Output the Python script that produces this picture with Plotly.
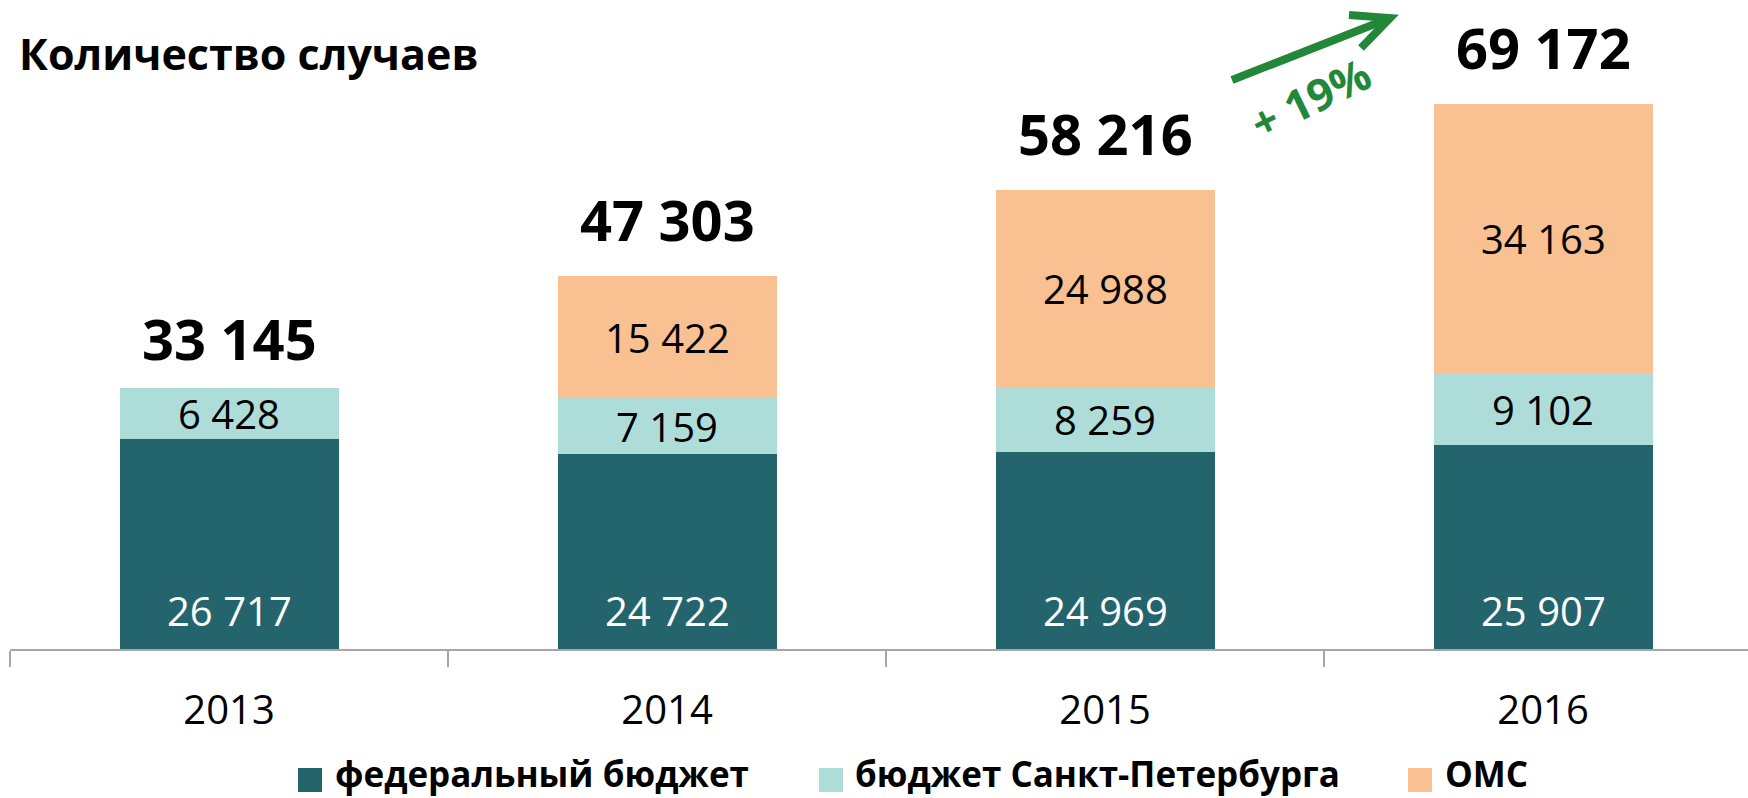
import plotly.graph_objects as go

# ---- data ----
years = ["2013", "2014", "2015", "2016"]
series_names = ["федеральный бюджет", "бюджет Санкт-Петербурга", "ОМС"]
federal = [26717, 24722, 24969, 25907]
spb = [6428, 7159, 8259, 9102]
oms = [None, 15422, 24988, 34163]
totals = [33145, 47303, 58216, 69172]
growth_label = "+ 19%"
title_text = "Количество случаев"

colors = ["#24646C", "#AEDDD9", "#F9C092"]
green = "#23873A"
FONT = "Open Sans"

# ---- layout geometry (pixels) ----
FW, FH = 1748, 798
ML, MR, MT, MB = 10, 0, 0, 149
PW, PH = FW - ML - MR, FH - MT - MB
total_shift = [50, 57, 57, 57]


def px_x(px):
    return (px - ML) / PW


def px_y(py):
    return (FH - MB - py) / PH


def fmt(v):
    return f"{v:,}".replace(",", " ")


fig = go.Figure()
for name, vals, col in zip(series_names, [federal, spb, oms], colors):
    fig.add_trace(go.Bar(x=years, y=vals, name=name, marker_color=col,
                         marker_line_width=0, width=0.5, showlegend=False,
                         hoverinfo="skip"))

annotations = []
# segment labels (x given as category index on the category axis)
for i, yr in enumerate(years):
    annotations.append(dict(x=i, y=0, xref="x", yref="y", text=fmt(federal[i]),
                            showarrow=False, yanchor="middle", yshift=39,
                            font=dict(family=FONT, size=40, color="white")))
    annotations.append(dict(x=i, y=federal[i] + spb[i] / 2, xref="x", yref="y",
                            text=fmt(spb[i]), showarrow=False, yanchor="middle",
                            font=dict(family=FONT, size=40, color="black")))
    if oms[i]:
        annotations.append(dict(x=i, y=federal[i] + spb[i] + oms[i] / 2,
                                xref="x", yref="y",
                                text=fmt(oms[i]), showarrow=False, yanchor="middle",
                                font=dict(family=FONT, size=40, color="black")))
    annotations.append(dict(x=i, y=totals[i], xref="x", yref="y",
                            text="<b>" + fmt(totals[i]) + "</b>",
                            showarrow=False, yanchor="middle", yshift=total_shift[i],
                            font=dict(family=FONT, size=56, color="black")))

# title
annotations.append(dict(xref="paper", yref="paper", x=px_x(17), y=px_y(54),
                        xanchor="left", yanchor="middle", showarrow=False,
                        text="<b>" + title_text + "</b>",
                        font=dict(family=FONT, size=43, color="black")))
# growth label
annotations.append(dict(xref="paper", yref="paper", x=px_x(1310), y=px_y(98),
                        xanchor="center", yanchor="middle", showarrow=False,
                        textangle=-26, text="<b>" + growth_label + "</b>",
                        font=dict(family=FONT, size=44, color=green)))

shapes = []
# arrow
shapes.append(dict(type="path", xref="paper", yref="paper",
                   path=f"M {px_x(1232)},{px_y(80)} L {px_x(1390)},{px_y(18)}",
                   line=dict(color=green, width=8)))
shapes.append(dict(type="path", xref="paper", yref="paper",
                   path=(f"M {px_x(1349)},{px_y(15)} L {px_x(1390)},{px_y(18)} "
                         f"L {px_x(1361)},{px_y(48)}"),
                   line=dict(color=green, width=8)))

# custom legend
legend_sq_x = [298, 819, 1408]
legend_tx_x = [333, 853, 1443]
for name, col, sx, tx in zip(series_names, colors, legend_sq_x, legend_tx_x):
    shapes.append(dict(type="rect", xref="paper", yref="paper",
                       x0=px_x(sx), x1=px_x(sx + 24), y0=px_y(792), y1=px_y(768),
                       fillcolor=col, line=dict(width=0)))
    annotations.append(dict(xref="paper", yref="paper", x=px_x(tx), y=px_y(773),
                            xanchor="left", yanchor="middle", showarrow=False,
                            text="<b>" + name + "</b>",
                            font=dict(family=FONT, size=35, color="black")))

fig.update_layout(
    width=FW, height=FH,
    margin=dict(l=ML, r=MR, t=MT, b=MB),
    barmode="stack",
    plot_bgcolor="white", paper_bgcolor="white",
    showlegend=False,
    annotations=annotations,
    shapes=shapes,
    xaxis=dict(type="category", range=[-0.5, -0.5 + PW / 438],
               showline=True, linecolor="#A6A6A6", linewidth=2,
               ticks="outside", tickson="boundaries", ticklen=16,
               tickcolor="#A6A6A6", tickwidth=2,
               ticklabelstandoff=25, automargin=False,
               tickfont=dict(family=FONT, size=40, color="black"),
               showgrid=False, fixedrange=True),
    yaxis=dict(range=[0, PH / 7.877 * 1000], visible=False, showgrid=False,
               zeroline=False, fixedrange=True),
)

fig.write_html("out.html",
               config={"displayModeBar": False},
               post_script="document.body.style.margin='0';document.body.style.overflow='hidden';")
